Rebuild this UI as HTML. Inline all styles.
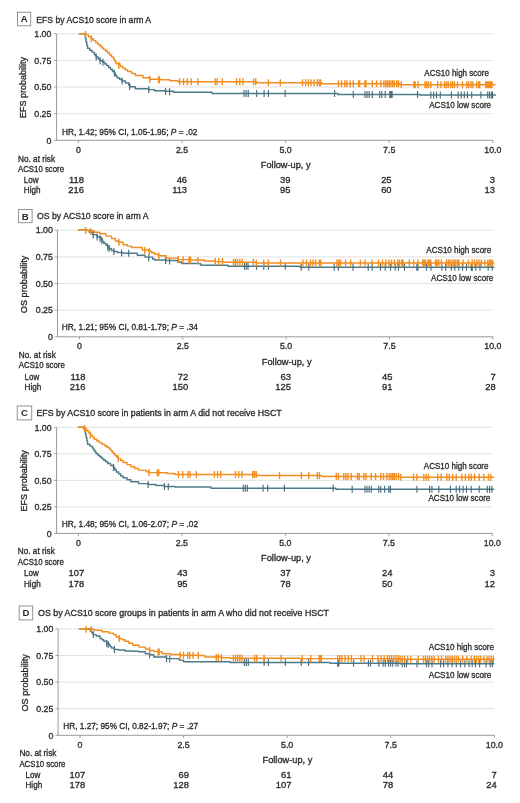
<!DOCTYPE html>
<html><head><meta charset="utf-8"><style>
html,body{margin:0;padding:0;background:#fff;overflow:hidden;}
svg{display:block;font-family:"Liberation Sans", sans-serif;filter:blur(0.35px);}
</style></head><body>
<svg width="520" height="803" viewBox="0 0 520 803">
<rect width="520" height="803" fill="#fff"/>
<rect x="17.5" y="12.2" width="13.2" height="13.5" fill="none" stroke="#888" stroke-width="0.9"/>
<text x="24.1" y="22.349999999999998" font-size="9.6" text-anchor="middle" font-weight="bold" fill="#2a2a2a">A</text>
<text x="36.3" y="22.5" font-size="9.3" textLength="114.8" lengthAdjust="spacingAndGlyphs" fill="#2a2a2a" stroke="#2a2a2a" stroke-width="0.32">EFS by ACS10 score in arm A</text>
<line x1="56.6" y1="113.67500000000001" x2="492.8" y2="113.67500000000001" stroke="#e2e2e2" stroke-width="1"/>
<line x1="56.6" y1="87.05000000000001" x2="492.8" y2="87.05000000000001" stroke="#e2e2e2" stroke-width="1"/>
<line x1="56.6" y1="60.425" x2="492.8" y2="60.425" stroke="#e2e2e2" stroke-width="1"/>
<line x1="56.6" y1="33.8" x2="492.8" y2="33.8" stroke="#e2e2e2" stroke-width="1"/>
<line x1="54.0" y1="140.3" x2="56.6" y2="140.3" stroke="#9a9a9a" stroke-width="0.9"/>
<text x="51.4" y="143.5" font-size="8.8" text-anchor="end" fill="#2a2a2a" stroke="#2a2a2a" stroke-width="0.32">0</text>
<line x1="54.0" y1="113.67500000000001" x2="56.6" y2="113.67500000000001" stroke="#9a9a9a" stroke-width="0.9"/>
<text x="51.4" y="116.87500000000001" font-size="8.8" text-anchor="end" fill="#2a2a2a" stroke="#2a2a2a" stroke-width="0.32">0.25</text>
<line x1="54.0" y1="87.05000000000001" x2="56.6" y2="87.05000000000001" stroke="#9a9a9a" stroke-width="0.9"/>
<text x="51.4" y="90.25000000000001" font-size="8.8" text-anchor="end" fill="#2a2a2a" stroke="#2a2a2a" stroke-width="0.32">0.50</text>
<line x1="54.0" y1="60.425" x2="56.6" y2="60.425" stroke="#9a9a9a" stroke-width="0.9"/>
<text x="51.4" y="63.625" font-size="8.8" text-anchor="end" fill="#2a2a2a" stroke="#2a2a2a" stroke-width="0.32">0.75</text>
<line x1="54.0" y1="33.8" x2="56.6" y2="33.8" stroke="#9a9a9a" stroke-width="0.9"/>
<text x="51.4" y="37.0" font-size="8.8" text-anchor="end" fill="#2a2a2a" stroke="#2a2a2a" stroke-width="0.32">1.00</text>
<line x1="56.6" y1="33.8" x2="56.6" y2="140.3" stroke="#9a9a9a" stroke-width="1.0"/>
<line x1="56.1" y1="140.3" x2="493.3" y2="140.3" stroke="#9a9a9a" stroke-width="1.0"/>
<line x1="78.4" y1="140.3" x2="78.4" y2="143.0" stroke="#9a9a9a" stroke-width="0.9"/>
<text x="78.4" y="153.0" font-size="8.8" text-anchor="middle" fill="#2a2a2a" stroke="#2a2a2a" stroke-width="0.32">0</text>
<line x1="182.0" y1="140.3" x2="182.0" y2="143.0" stroke="#9a9a9a" stroke-width="0.9"/>
<text x="182.0" y="153.0" font-size="8.8" text-anchor="middle" fill="#2a2a2a" stroke="#2a2a2a" stroke-width="0.32">2.5</text>
<line x1="285.6" y1="140.3" x2="285.6" y2="143.0" stroke="#9a9a9a" stroke-width="0.9"/>
<text x="285.6" y="153.0" font-size="8.8" text-anchor="middle" fill="#2a2a2a" stroke="#2a2a2a" stroke-width="0.32">5.0</text>
<line x1="389.19999999999993" y1="140.3" x2="389.19999999999993" y2="143.0" stroke="#9a9a9a" stroke-width="0.9"/>
<text x="389.19999999999993" y="153.0" font-size="8.8" text-anchor="middle" fill="#2a2a2a" stroke="#2a2a2a" stroke-width="0.32">7.5</text>
<line x1="492.79999999999995" y1="140.3" x2="492.79999999999995" y2="143.0" stroke="#9a9a9a" stroke-width="0.9"/>
<text x="492.79999999999995" y="153.0" font-size="8.8" text-anchor="middle" fill="#2a2a2a" stroke="#2a2a2a" stroke-width="0.32">10.0</text>
<text transform="translate(26.3,87.6) rotate(-90)" x="0" y="0" font-size="9.4" text-anchor="middle" textLength="61" lengthAdjust="spacingAndGlyphs" fill="#2a2a2a" stroke="#2a2a2a" stroke-width="0.32">EFS probability</text>
<text x="260.8" y="168.0" font-size="9.5" textLength="49.8" lengthAdjust="spacingAndGlyphs" fill="#2a2a2a" stroke="#2a2a2a" stroke-width="0.32">Follow-up, y</text>
<text x="61.9" y="134.7" font-size="9.2" textLength="135.5" lengthAdjust="spacingAndGlyphs" fill="#2a2a2a" stroke="#2a2a2a" stroke-width="0.32">HR, 1.42; 95% CI, 1.05-1.95; <tspan font-style="italic">P</tspan> = .02</text>
<path d="M78.8,33.8 L84.6,33.8 H85.3 V37.9 H86.0 V42.0 H86.8 V45.1 H87.5 V48.3 H89.7 V50.2 H92.0 V52.1 H94.2 V54.0 H95.2 V55.5 H96.2 V56.9 H98.1 V58.8 H100.0 V60.8 H102.9 V62.3 H104.8 V64.0 H106.8 V65.8 H108.7 V67.5 H110.6 V69.4 H112.5 V71.4 H114.4 V73.3 H115.4 V74.9 H116.3 V76.4 H117.3 V78.0 H119.7 V79.5 H122.1 V81.0 H125.4 V83.0 H128.7 V85.0 H129.8 V86.7 H135.4 V88.8 H148.8 V89.6 H154.6 V90.8 H165.0 V91.3 H173.8 V92.3 L212.0,92.3 L212.0,93.5 L338.0,93.5 L338.0,94.5 L420.0,94.5 L420.0,95.0 L496.0,95.0" fill="none" stroke="#4C7A8B" stroke-width="1.45" stroke-linejoin="round"/>
<path d="M96.2,53.4v7.0M100.0,57.3v7.0M102.9,58.8v7.0M114.4,69.8v7.0M122.1,77.5v7.0M129.6,82.9v7.0M148.8,86.1v7.0M165.6,87.9v7.0M169.6,88.3v7.0M244.0,90.0v7.0M246.2,90.0v7.0M248.3,90.0v7.0M256.7,90.0v7.0M264.1,90.0v7.0M268.4,90.0v7.0M285.2,90.0v7.0M334.6,90.0v7.0M353.3,91.0v7.0M364.9,91.0v7.0M367.0,91.0v7.0M369.1,91.0v7.0M372.3,91.0v7.0M379.7,91.0v7.0M381.8,91.0v7.0M385.2,91.0v7.0M389.8,91.0v7.0M391.0,91.0v7.0M392.1,91.0v7.0M417.5,91.0v7.0M430.8,91.5v7.0M433.7,91.5v7.0M436.5,91.5v7.0M440.3,91.5v7.0M451.4,91.5v7.0M458.2,91.5v7.0M461.2,91.5v7.0M464.3,91.5v7.0M467.4,91.5v7.0M471.7,91.5v7.0M480.9,91.5v7.0M487.7,91.5v7.0M489.5,91.5v7.0M491.4,91.5v7.0M492.6,91.5v7.0" stroke="#4A6E7E" stroke-width="1.15" fill="none"/>
<path d="M78.8,33.8 L83.7,33.8 H85.6 V34.6 H88.4 V36.7 H91.3 V38.7 H93.5 V40.6 H95.7 V42.5 H97.8 V44.4 H100.0 V46.3 H101.9 V48.0 H103.8 V49.6 H105.8 V51.3 H107.7 V53.0 H109.6 V54.9 H111.6 V56.9 H113.5 V58.8 H114.4 V60.4 H115.4 V62.1 H116.3 V63.7 H120.0 V66.2 H122.6 V68.0 H125.1 V69.7 H127.7 V71.5 H131.6 V73.5 H135.4 V75.4 H143.0 V77.7 H149.8 V79.2 H160.4 V79.8 H170.0 V80.8 H178.0 V81.3 L178.0,81.8 L257.0,81.8 L257.0,82.7 L322.0,82.7 L322.0,83.8 L400.0,83.8 L400.0,84.8 L495.5,84.8" fill="none" stroke="#F28D20" stroke-width="1.45" stroke-linejoin="round"/>
<path d="M85.6,31.1v7.0M91.3,35.2v7.0M118.8,61.9v7.0M149.8,75.7v7.0M158.5,76.2v7.0M159.4,76.2v7.0M179.6,78.3v7.0M183.5,78.3v7.0M187.3,78.3v7.0M191.2,78.3v7.0M197.9,78.3v7.0M215.2,78.3v7.0M217.1,78.3v7.0M222.3,78.3v7.0M236.6,78.3v7.0M239.8,78.3v7.0M243.0,78.3v7.0M253.6,78.3v7.0M255.7,78.3v7.0M268.4,79.2v7.0M280.3,79.2v7.0M302.5,79.2v7.0M305.7,79.2v7.0M308.4,79.2v7.0M311.0,79.2v7.0M314.1,79.2v7.0M317.3,79.2v7.0M319.4,79.2v7.0M320.5,79.2v7.0M338.5,80.3v7.0M341.6,80.3v7.0M344.8,80.3v7.0M346.9,80.3v7.0M350.1,80.3v7.0M353.3,80.3v7.0M358.6,80.3v7.0M359.6,80.3v7.0M364.9,80.3v7.0M366.0,80.3v7.0M372.3,80.3v7.0M376.5,80.3v7.0M380.8,80.3v7.0M383.9,80.3v7.0M385.8,80.3v7.0M387.5,80.3v7.0M389.2,80.3v7.0M391.0,80.3v7.0M392.7,80.3v7.0M394.4,80.3v7.0M396.7,80.3v7.0M398.5,80.3v7.0M401.3,81.3v7.0M414.0,81.3v7.0M415.2,81.3v7.0M418.1,81.3v7.0M425.0,81.3v7.0M426.7,81.3v7.0M428.5,81.3v7.0M430.8,81.3v7.0M437.7,81.3v7.0M440.9,81.3v7.0M444.6,81.3v7.0M446.5,81.3v7.0M448.3,81.3v7.0M450.8,81.3v7.0M452.6,81.3v7.0M454.5,81.3v7.0M457.5,81.3v7.0M462.5,81.3v7.0M466.8,81.3v7.0M468.6,81.3v7.0M471.1,81.3v7.0M472.9,81.3v7.0M476.6,81.3v7.0M478.5,81.3v7.0M479.7,81.3v7.0M485.8,81.3v7.0M487.1,81.3v7.0M488.3,81.3v7.0M489.5,81.3v7.0M490.8,81.3v7.0M492.0,81.3v7.0" stroke="#F28D20" stroke-width="1.4" fill="none"/>
<text x="424.3" y="76.3" font-size="9.3" textLength="64.6" lengthAdjust="spacingAndGlyphs" fill="#2a2a2a" stroke="#2a2a2a" stroke-width="0.32">ACS10 high score</text>
<text x="429.2" y="108.3" font-size="9.3" textLength="61.9" lengthAdjust="spacingAndGlyphs" fill="#2a2a2a" stroke="#2a2a2a" stroke-width="0.32">ACS10 low score</text>
<text x="18.0" y="161.5" font-size="9.2" textLength="37" lengthAdjust="spacingAndGlyphs" fill="#2a2a2a" stroke="#2a2a2a" stroke-width="0.32">No. at risk</text>
<text x="18.0" y="172.2" font-size="9.2" textLength="46" lengthAdjust="spacingAndGlyphs" fill="#2a2a2a" stroke="#2a2a2a" stroke-width="0.32">ACS10 score</text>
<text x="23.8" y="182.9" font-size="9.2" textLength="14.7" lengthAdjust="spacingAndGlyphs" fill="#2a2a2a" stroke="#2a2a2a" stroke-width="0.32">Low</text>
<text x="23.8" y="193.3" font-size="9.2" textLength="16.7" lengthAdjust="spacingAndGlyphs" fill="#2a2a2a" stroke="#2a2a2a" stroke-width="0.32">High</text>
<text x="84.0" y="182.9" font-size="9.4" text-anchor="end" fill="#2a2a2a" stroke="#2a2a2a" stroke-width="0.32">118</text>
<text x="84.0" y="193.3" font-size="9.4" text-anchor="end" fill="#2a2a2a" stroke="#2a2a2a" stroke-width="0.32">216</text>
<text x="187.1" y="182.9" font-size="9.4" text-anchor="end" fill="#2a2a2a" stroke="#2a2a2a" stroke-width="0.32">46</text>
<text x="187.1" y="193.3" font-size="9.4" text-anchor="end" fill="#2a2a2a" stroke="#2a2a2a" stroke-width="0.32">113</text>
<text x="290.4" y="182.9" font-size="9.4" text-anchor="end" fill="#2a2a2a" stroke="#2a2a2a" stroke-width="0.32">39</text>
<text x="290.4" y="193.3" font-size="9.4" text-anchor="end" fill="#2a2a2a" stroke="#2a2a2a" stroke-width="0.32">95</text>
<text x="391.6" y="182.9" font-size="9.4" text-anchor="end" fill="#2a2a2a" stroke="#2a2a2a" stroke-width="0.32">25</text>
<text x="391.6" y="193.3" font-size="9.4" text-anchor="end" fill="#2a2a2a" stroke="#2a2a2a" stroke-width="0.32">60</text>
<text x="495.0" y="182.9" font-size="9.4" text-anchor="end" fill="#2a2a2a" stroke="#2a2a2a" stroke-width="0.32">3</text>
<text x="495.0" y="193.3" font-size="9.4" text-anchor="end" fill="#2a2a2a" stroke="#2a2a2a" stroke-width="0.32">13</text>
<rect x="18.4" y="209.5" width="13.7" height="13.2" fill="none" stroke="#888" stroke-width="0.9"/>
<text x="25.25" y="219.5" font-size="9.6" text-anchor="middle" font-weight="bold" fill="#2a2a2a">B</text>
<text x="37.1" y="219.0" font-size="9.3" textLength="111.4" lengthAdjust="spacingAndGlyphs" fill="#2a2a2a" stroke="#2a2a2a" stroke-width="0.32">OS by ACS10 score in arm A</text>
<line x1="57.5" y1="310.15" x2="492.8" y2="310.15" stroke="#e2e2e2" stroke-width="1"/>
<line x1="57.5" y1="283.5" x2="492.8" y2="283.5" stroke="#e2e2e2" stroke-width="1"/>
<line x1="57.5" y1="256.85" x2="492.8" y2="256.85" stroke="#e2e2e2" stroke-width="1"/>
<line x1="57.5" y1="230.2" x2="492.8" y2="230.2" stroke="#e2e2e2" stroke-width="1"/>
<line x1="54.9" y1="336.8" x2="57.5" y2="336.8" stroke="#9a9a9a" stroke-width="0.9"/>
<text x="52.9" y="340.0" font-size="8.8" text-anchor="end" fill="#2a2a2a" stroke="#2a2a2a" stroke-width="0.32">0</text>
<line x1="54.9" y1="310.15" x2="57.5" y2="310.15" stroke="#9a9a9a" stroke-width="0.9"/>
<text x="52.9" y="313.34999999999997" font-size="8.8" text-anchor="end" fill="#2a2a2a" stroke="#2a2a2a" stroke-width="0.32">0.25</text>
<line x1="54.9" y1="283.5" x2="57.5" y2="283.5" stroke="#9a9a9a" stroke-width="0.9"/>
<text x="52.9" y="286.7" font-size="8.8" text-anchor="end" fill="#2a2a2a" stroke="#2a2a2a" stroke-width="0.32">0.50</text>
<line x1="54.9" y1="256.85" x2="57.5" y2="256.85" stroke="#9a9a9a" stroke-width="0.9"/>
<text x="52.9" y="260.05" font-size="8.8" text-anchor="end" fill="#2a2a2a" stroke="#2a2a2a" stroke-width="0.32">0.75</text>
<line x1="54.9" y1="230.2" x2="57.5" y2="230.2" stroke="#9a9a9a" stroke-width="0.9"/>
<text x="52.9" y="233.39999999999998" font-size="8.8" text-anchor="end" fill="#2a2a2a" stroke="#2a2a2a" stroke-width="0.32">1.00</text>
<line x1="57.5" y1="230.2" x2="57.5" y2="336.8" stroke="#9a9a9a" stroke-width="1.0"/>
<line x1="57.0" y1="336.8" x2="493.3" y2="336.8" stroke="#9a9a9a" stroke-width="1.0"/>
<line x1="79.4" y1="336.8" x2="79.4" y2="339.5" stroke="#9a9a9a" stroke-width="0.9"/>
<text x="79.4" y="349.4" font-size="8.8" text-anchor="middle" fill="#2a2a2a" stroke="#2a2a2a" stroke-width="0.32">0</text>
<line x1="182.75" y1="336.8" x2="182.75" y2="339.5" stroke="#9a9a9a" stroke-width="0.9"/>
<text x="182.75" y="349.4" font-size="8.8" text-anchor="middle" fill="#2a2a2a" stroke="#2a2a2a" stroke-width="0.32">2.5</text>
<line x1="286.1" y1="336.8" x2="286.1" y2="339.5" stroke="#9a9a9a" stroke-width="0.9"/>
<text x="286.1" y="349.4" font-size="8.8" text-anchor="middle" fill="#2a2a2a" stroke="#2a2a2a" stroke-width="0.32">5.0</text>
<line x1="389.44999999999993" y1="336.8" x2="389.44999999999993" y2="339.5" stroke="#9a9a9a" stroke-width="0.9"/>
<text x="389.44999999999993" y="349.4" font-size="8.8" text-anchor="middle" fill="#2a2a2a" stroke="#2a2a2a" stroke-width="0.32">7.5</text>
<line x1="492.79999999999995" y1="336.8" x2="492.79999999999995" y2="339.5" stroke="#9a9a9a" stroke-width="0.9"/>
<text x="492.79999999999995" y="349.4" font-size="8.8" text-anchor="middle" fill="#2a2a2a" stroke="#2a2a2a" stroke-width="0.32">10.0</text>
<text transform="translate(27.0,284.4) rotate(-90)" x="0" y="0" font-size="9.4" text-anchor="middle" textLength="57.6" lengthAdjust="spacingAndGlyphs" fill="#2a2a2a" stroke="#2a2a2a" stroke-width="0.32">OS probability</text>
<text x="261.8" y="364.8" font-size="9.5" textLength="49.8" lengthAdjust="spacingAndGlyphs" fill="#2a2a2a" stroke="#2a2a2a" stroke-width="0.32">Follow-up, y</text>
<text x="61.8" y="329.8" font-size="9.2" textLength="136.2" lengthAdjust="spacingAndGlyphs" fill="#2a2a2a" stroke="#2a2a2a" stroke-width="0.32">HR, 1.21; 95% CI, 0.81-1.79; <tspan font-style="italic">P</tspan> = .34</text>
<path d="M77.9,229.8 H86.0 V230.3 H89.4 V232.2 H92.8 V234.6 H97.1 V237.0 H101.0 V239.4 H102.4 V241.4 H103.8 V243.3 H105.8 V245.2 H107.7 V247.1 H109.6 V248.8 H111.5 V250.5 H113.9 V251.4 H117.3 V252.4 H121.6 V252.9 H125.0 V253.3 L130.0,253.3 H137.3 V255.2 H145.0 V257.1 H152.7 V259.0 H154.6 V260.0 H166.0 V260.4 H177.7 V261.9 H181.5 V263.5 H198.8 V263.8 H200.8 V265.2 L200.8,265.3 L228.0,265.3 L228.0,266.2 L300.0,266.2 L300.0,267.2 L494.4,267.2" fill="none" stroke="#4C7A8B" stroke-width="1.45" stroke-linejoin="round"/>
<path d="M93.3,231.4v7.0M97.1,233.5v7.0M100.0,235.3v7.0M101.9,237.2v7.0M107.7,243.6v7.0M109.1,244.9v7.0M113.9,247.9v7.0M121.6,249.4v7.0M128.7,249.8v7.0M148.7,254.5v7.0M165.6,256.9v7.0M169.6,257.4v7.0M244.5,262.7v7.0M246.3,262.7v7.0M248.0,262.7v7.0M256.6,262.7v7.0M263.7,262.7v7.0M268.4,262.7v7.0M285.3,262.7v7.0M301.2,263.7v7.0M308.8,263.7v7.0M334.2,263.7v7.0M338.4,263.7v7.0M353.0,263.7v7.0M368.2,263.7v7.0M372.2,263.7v7.0M380.5,263.7v7.0M385.2,263.7v7.0M390.5,263.7v7.0M395.2,263.7v7.0M398.4,263.7v7.0M404.5,263.7v7.0M416.8,263.7v7.0M418.0,263.7v7.0M426.5,263.7v7.0M431.0,263.7v7.0M441.8,263.7v7.0M445.6,263.7v7.0M451.4,263.7v7.0M454.8,263.7v7.0M458.7,263.7v7.0M462.5,263.7v7.0M466.4,263.7v7.0M471.2,263.7v7.0M472.3,263.7v7.0M475.8,263.7v7.0M480.0,263.7v7.0M488.2,263.7v7.0M492.2,263.7v7.0" stroke="#4A6E7E" stroke-width="1.15" fill="none"/>
<path d="M77.9,229.8 H84.6 V230.3 H88.0 V230.8 H94.2 V232.2 H100.0 V233.7 H105.8 V236.1 H111.5 V238.5 H115.4 V240.9 H118.8 V242.3 H123.1 V244.7 H127.3 V246.1 H131.5 V247.5 H142.3 V250.0 H148.8 V251.3 H151.7 V252.8 H154.6 V254.2 H158.5 V255.8 H166.2 V258.1 H178.0 V259.6 H192.0 V260.0 H204.6 V261.0 H215.0 V261.3 L215.0,261.6 L224.0,261.6 L224.0,262.2 L256.0,262.2 L256.0,262.9 L494.4,262.9" fill="none" stroke="#F28D20" stroke-width="1.45" stroke-linejoin="round"/>
<path d="M85.6,226.9v7.0M90.9,228.0v7.0M118.8,238.8v7.0M144.7,247.0v7.0M149.4,248.1v7.0M158.8,252.4v7.0M178.4,256.1v7.0M183.1,256.2v7.0M189.1,256.4v7.0M190.5,256.5v7.0M197.9,257.0v7.0M215.3,258.1v7.0M218.7,258.1v7.0M222.5,258.1v7.0M233.6,258.7v7.0M235.5,258.7v7.0M237.4,258.7v7.0M239.8,258.7v7.0M242.2,258.7v7.0M253.3,258.7v7.0M256.3,259.4v7.0M263.7,259.4v7.0M268.4,259.4v7.0M280.5,259.4v7.0M302.9,259.4v7.0M306.5,259.4v7.0M310.6,259.4v7.0M312.9,259.4v7.0M315.6,259.4v7.0M319.3,259.4v7.0M320.8,259.4v7.0M337.0,259.4v7.0M338.8,259.4v7.0M340.5,259.4v7.0M345.6,259.4v7.0M350.7,259.4v7.0M360.4,259.4v7.0M365.0,259.4v7.0M372.0,259.4v7.0M378.5,259.4v7.0M382.5,259.4v7.0M386.0,259.4v7.0M389.0,259.4v7.0M391.5,259.4v7.0M394.5,259.4v7.0M397.7,259.4v7.0M399.5,259.4v7.0M401.7,259.4v7.0M403.0,259.4v7.0M409.3,259.4v7.0M413.6,259.4v7.0M417.8,259.4v7.0M422.8,259.4v7.0M424.2,259.4v7.0M425.4,259.4v7.0M427.8,259.4v7.0M429.3,259.4v7.0M430.8,259.4v7.0M435.6,259.4v7.0M437.0,259.4v7.0M438.8,259.4v7.0M441.4,259.4v7.0M446.5,259.4v7.0M448.3,259.4v7.0M450.0,259.4v7.0M452.0,259.4v7.0M453.8,259.4v7.0M455.5,259.4v7.0M457.3,259.4v7.0M458.8,259.4v7.0M463.0,259.4v7.0M468.5,259.4v7.0M472.2,259.4v7.0M474.5,259.4v7.0M477.0,259.4v7.0M479.0,259.4v7.0M481.3,259.4v7.0M484.8,259.4v7.0M487.8,259.4v7.0M489.5,259.4v7.0M491.0,259.4v7.0M492.5,259.4v7.0" stroke="#F28D20" stroke-width="1.4" fill="none"/>
<text x="426.3" y="253.1" font-size="9.3" textLength="65.0" lengthAdjust="spacingAndGlyphs" fill="#2a2a2a" stroke="#2a2a2a" stroke-width="0.32">ACS10 high score</text>
<text x="431.0" y="280.6" font-size="9.3" textLength="62.4" lengthAdjust="spacingAndGlyphs" fill="#2a2a2a" stroke="#2a2a2a" stroke-width="0.32">ACS10 low score</text>
<text x="18.8" y="357.6" font-size="9.2" textLength="37" lengthAdjust="spacingAndGlyphs" fill="#2a2a2a" stroke="#2a2a2a" stroke-width="0.32">No. at risk</text>
<text x="18.8" y="368.4" font-size="9.2" textLength="46" lengthAdjust="spacingAndGlyphs" fill="#2a2a2a" stroke="#2a2a2a" stroke-width="0.32">ACS10 score</text>
<text x="24.6" y="379.5" font-size="9.2" textLength="14.7" lengthAdjust="spacingAndGlyphs" fill="#2a2a2a" stroke="#2a2a2a" stroke-width="0.32">Low</text>
<text x="24.6" y="390.3" font-size="9.2" textLength="16.7" lengthAdjust="spacingAndGlyphs" fill="#2a2a2a" stroke="#2a2a2a" stroke-width="0.32">High</text>
<text x="85.4" y="379.5" font-size="9.4" text-anchor="end" fill="#2a2a2a" stroke="#2a2a2a" stroke-width="0.32">118</text>
<text x="85.4" y="390.3" font-size="9.4" text-anchor="end" fill="#2a2a2a" stroke="#2a2a2a" stroke-width="0.32">216</text>
<text x="188.2" y="379.5" font-size="9.4" text-anchor="end" fill="#2a2a2a" stroke="#2a2a2a" stroke-width="0.32">72</text>
<text x="188.2" y="390.3" font-size="9.4" text-anchor="end" fill="#2a2a2a" stroke="#2a2a2a" stroke-width="0.32">150</text>
<text x="291.0" y="379.5" font-size="9.4" text-anchor="end" fill="#2a2a2a" stroke="#2a2a2a" stroke-width="0.32">63</text>
<text x="291.0" y="390.3" font-size="9.4" text-anchor="end" fill="#2a2a2a" stroke="#2a2a2a" stroke-width="0.32">125</text>
<text x="392.5" y="379.5" font-size="9.4" text-anchor="end" fill="#2a2a2a" stroke="#2a2a2a" stroke-width="0.32">45</text>
<text x="392.5" y="390.3" font-size="9.4" text-anchor="end" fill="#2a2a2a" stroke="#2a2a2a" stroke-width="0.32">91</text>
<text x="495.7" y="379.5" font-size="9.4" text-anchor="end" fill="#2a2a2a" stroke="#2a2a2a" stroke-width="0.32">7</text>
<text x="495.7" y="390.3" font-size="9.4" text-anchor="end" fill="#2a2a2a" stroke="#2a2a2a" stroke-width="0.32">28</text>
<rect x="17.2" y="406.0" width="14.5" height="13.9" fill="none" stroke="#888" stroke-width="0.9"/>
<text x="24.45" y="416.34999999999997" font-size="9.6" text-anchor="middle" font-weight="bold" fill="#2a2a2a">C</text>
<text x="36.5" y="415.6" font-size="9.3" textLength="245.2" lengthAdjust="spacingAndGlyphs" fill="#2a2a2a" stroke="#2a2a2a" stroke-width="0.32">EFS by ACS10 score in patients in arm A did not receive HSCT</text>
<line x1="56.6" y1="506.875" x2="492.3" y2="506.875" stroke="#e2e2e2" stroke-width="1"/>
<line x1="56.6" y1="480.35" x2="492.3" y2="480.35" stroke="#e2e2e2" stroke-width="1"/>
<line x1="56.6" y1="453.825" x2="492.3" y2="453.825" stroke="#e2e2e2" stroke-width="1"/>
<line x1="56.6" y1="427.3" x2="492.3" y2="427.3" stroke="#e2e2e2" stroke-width="1"/>
<line x1="54.0" y1="533.4" x2="56.6" y2="533.4" stroke="#9a9a9a" stroke-width="0.9"/>
<text x="51.6" y="536.6" font-size="8.8" text-anchor="end" fill="#2a2a2a" stroke="#2a2a2a" stroke-width="0.32">0</text>
<line x1="54.0" y1="506.875" x2="56.6" y2="506.875" stroke="#9a9a9a" stroke-width="0.9"/>
<text x="51.6" y="510.075" font-size="8.8" text-anchor="end" fill="#2a2a2a" stroke="#2a2a2a" stroke-width="0.32">0.25</text>
<line x1="54.0" y1="480.35" x2="56.6" y2="480.35" stroke="#9a9a9a" stroke-width="0.9"/>
<text x="51.6" y="483.55" font-size="8.8" text-anchor="end" fill="#2a2a2a" stroke="#2a2a2a" stroke-width="0.32">0.50</text>
<line x1="54.0" y1="453.825" x2="56.6" y2="453.825" stroke="#9a9a9a" stroke-width="0.9"/>
<text x="51.6" y="457.025" font-size="8.8" text-anchor="end" fill="#2a2a2a" stroke="#2a2a2a" stroke-width="0.32">0.75</text>
<line x1="54.0" y1="427.3" x2="56.6" y2="427.3" stroke="#9a9a9a" stroke-width="0.9"/>
<text x="51.6" y="430.5" font-size="8.8" text-anchor="end" fill="#2a2a2a" stroke="#2a2a2a" stroke-width="0.32">1.00</text>
<line x1="56.6" y1="427.3" x2="56.6" y2="533.4" stroke="#9a9a9a" stroke-width="1.0"/>
<line x1="56.1" y1="533.4" x2="492.8" y2="533.4" stroke="#9a9a9a" stroke-width="1.0"/>
<line x1="78.4" y1="533.4" x2="78.4" y2="536.1" stroke="#9a9a9a" stroke-width="0.9"/>
<text x="78.4" y="546.3" font-size="8.8" text-anchor="middle" fill="#2a2a2a" stroke="#2a2a2a" stroke-width="0.32">0</text>
<line x1="181.875" y1="533.4" x2="181.875" y2="536.1" stroke="#9a9a9a" stroke-width="0.9"/>
<text x="181.875" y="546.3" font-size="8.8" text-anchor="middle" fill="#2a2a2a" stroke="#2a2a2a" stroke-width="0.32">2.5</text>
<line x1="285.35" y1="533.4" x2="285.35" y2="536.1" stroke="#9a9a9a" stroke-width="0.9"/>
<text x="285.35" y="546.3" font-size="8.8" text-anchor="middle" fill="#2a2a2a" stroke="#2a2a2a" stroke-width="0.32">5.0</text>
<line x1="388.82499999999993" y1="533.4" x2="388.82499999999993" y2="536.1" stroke="#9a9a9a" stroke-width="0.9"/>
<text x="388.82499999999993" y="546.3" font-size="8.8" text-anchor="middle" fill="#2a2a2a" stroke="#2a2a2a" stroke-width="0.32">7.5</text>
<line x1="492.29999999999995" y1="533.4" x2="492.29999999999995" y2="536.1" stroke="#9a9a9a" stroke-width="0.9"/>
<text x="492.29999999999995" y="546.3" font-size="8.8" text-anchor="middle" fill="#2a2a2a" stroke="#2a2a2a" stroke-width="0.32">10.0</text>
<text transform="translate(26.8,480.8) rotate(-90)" x="0" y="0" font-size="9.4" text-anchor="middle" textLength="61.3" lengthAdjust="spacingAndGlyphs" fill="#2a2a2a" stroke="#2a2a2a" stroke-width="0.32">EFS probability</text>
<text x="261.0" y="561.0" font-size="9.5" textLength="50.0" lengthAdjust="spacingAndGlyphs" fill="#2a2a2a" stroke="#2a2a2a" stroke-width="0.32">Follow-up, y</text>
<text x="61.8" y="527.4" font-size="9.2" textLength="136.3" lengthAdjust="spacingAndGlyphs" fill="#2a2a2a" stroke="#2a2a2a" stroke-width="0.32">HR, 1.48; 95% CI, 1.06-2.07; <tspan font-style="italic">P</tspan> = .02</text>
<path d="M77.9,427.3 L83.7,427.3 H84.3 V429.7 H85.0 V432.1 H85.6 V434.5 H86.2 V437.7 H86.9 V441.0 H87.5 V444.2 H89.9 V446.1 H92.3 V448.0 H93.6 V449.9 H94.9 V451.9 H96.2 V453.8 H98.1 V455.4 H100.0 V457.0 H101.9 V458.6 H103.8 V460.2 H105.8 V461.8 H107.7 V463.4 H110.6 V465.5 H113.5 V467.6 H114.9 V469.8 H116.3 V472.0 H118.6 V473.9 H120.8 V475.9 H123.1 V477.8 H127.0 V479.8 H130.8 V481.7 H138.5 V483.6 H148.1 V484.5 H155.8 V485.5 H164.4 V486.5 H175.0 V487.0 L211.0,487.0 L211.0,488.3 L336.0,488.3 L336.0,489.2 L494.2,489.2" fill="none" stroke="#4C7A8B" stroke-width="1.45" stroke-linejoin="round"/>
<path d="M113.5,464.1v7.0M148.1,481.0v7.0M164.4,483.0v7.0M168.3,483.2v7.0M243.3,484.8v7.0M245.3,484.8v7.0M247.3,484.8v7.0M263.1,484.8v7.0M267.7,484.8v7.0M284.4,484.8v7.0M333.2,484.8v7.0M352.2,485.7v7.0M364.9,485.7v7.0M367.0,485.7v7.0M369.1,485.7v7.0M371.3,485.7v7.0M378.7,485.7v7.0M380.8,485.7v7.0M384.6,485.7v7.0M388.8,485.7v7.0M390.4,485.7v7.0M416.9,485.7v7.0M429.6,485.7v7.0M431.9,485.7v7.0M438.8,485.7v7.0M450.4,485.7v7.0M456.2,485.7v7.0M459.6,485.7v7.0M463.1,485.7v7.0M466.5,485.7v7.0M471.2,485.7v7.0M479.2,485.7v7.0M487.3,485.7v7.0M489.6,485.7v7.0M491.9,485.7v7.0" stroke="#4A6E7E" stroke-width="1.15" fill="none"/>
<path d="M77.9,427.3 H82.7 V427.8 H84.6 V428.5 H86.5 V430.7 H88.5 V432.8 H90.4 V434.9 H92.3 V437.1 H94.2 V439.3 H96.8 V440.9 H99.3 V442.6 H101.9 V444.2 H104.5 V445.8 H107.0 V447.4 H109.6 V449.0 H110.9 V450.6 H112.2 V452.2 H113.5 V453.8 H115.1 V455.4 H116.7 V457.0 H118.3 V458.6 H120.7 V460.5 H123.1 V462.4 H127.0 V464.6 H130.8 V466.8 H134.7 V468.5 H138.5 V470.1 H146.2 V471.7 H149.0 V472.6 H158.0 V472.8 H167.3 V473.4 H175.0 V473.6 L175.0,474.5 L257.0,474.5 L257.0,475.5 L322.0,475.5 L322.0,476.5 L400.0,476.5 L400.0,477.3 L494.2,477.3" fill="none" stroke="#F28D20" stroke-width="1.45" stroke-linejoin="round"/>
<path d="M84.6,425.0v7.0M90.4,431.4v7.0M118.3,455.1v7.0M149.0,469.1v7.0M157.3,469.3v7.0M158.7,469.3v7.0M178.5,471.0v7.0M182.7,471.0v7.0M188.0,471.0v7.0M190.1,471.0v7.0M196.4,471.0v7.0M214.4,471.0v7.0M217.6,471.0v7.0M220.8,471.0v7.0M235.6,471.0v7.0M238.8,471.0v7.0M241.9,471.0v7.0M252.7,471.0v7.0M254.4,471.0v7.0M256.2,471.0v7.0M279.5,472.0v7.0M301.4,472.0v7.0M308.8,472.0v7.0M317.3,472.0v7.0M319.4,472.0v7.0M336.3,473.0v7.0M338.5,473.0v7.0M343.8,473.0v7.0M345.9,473.0v7.0M348.0,473.0v7.0M351.2,473.0v7.0M357.5,473.0v7.0M359.2,473.0v7.0M363.9,473.0v7.0M366.0,473.0v7.0M371.3,473.0v7.0M375.5,473.0v7.0M380.8,473.0v7.0M383.5,473.0v7.0M386.9,473.0v7.0M389.2,473.0v7.0M391.1,473.0v7.0M392.7,473.0v7.0M394.3,473.0v7.0M396.2,473.0v7.0M398.5,473.0v7.0M400.8,473.8v7.0M413.5,473.8v7.0M416.9,473.8v7.0M423.8,473.8v7.0M426.2,473.8v7.0M428.5,473.8v7.0M437.7,473.8v7.0M441.2,473.8v7.0M446.9,473.8v7.0M449.2,473.8v7.0M452.7,473.8v7.0M456.2,473.8v7.0M461.9,473.8v7.0M465.4,473.8v7.0M468.8,473.8v7.0M471.2,473.8v7.0M474.6,473.8v7.0M479.2,473.8v7.0M483.8,473.8v7.0M488.5,473.8v7.0M490.8,473.8v7.0" stroke="#F28D20" stroke-width="1.4" fill="none"/>
<text x="423.8" y="469.3" font-size="9.3" textLength="64.7" lengthAdjust="spacingAndGlyphs" fill="#2a2a2a" stroke="#2a2a2a" stroke-width="0.32">ACS10 high score</text>
<text x="428.5" y="501.2" font-size="9.3" textLength="61.8" lengthAdjust="spacingAndGlyphs" fill="#2a2a2a" stroke="#2a2a2a" stroke-width="0.32">ACS10 low score</text>
<text x="17.8" y="554.4" font-size="9.2" textLength="37" lengthAdjust="spacingAndGlyphs" fill="#2a2a2a" stroke="#2a2a2a" stroke-width="0.32">No. at risk</text>
<text x="17.8" y="565.2" font-size="9.2" textLength="46" lengthAdjust="spacingAndGlyphs" fill="#2a2a2a" stroke="#2a2a2a" stroke-width="0.32">ACS10 score</text>
<text x="24.0" y="575.9" font-size="9.2" textLength="14.7" lengthAdjust="spacingAndGlyphs" fill="#2a2a2a" stroke="#2a2a2a" stroke-width="0.32">Low</text>
<text x="24.0" y="586.7" font-size="9.2" textLength="16.7" lengthAdjust="spacingAndGlyphs" fill="#2a2a2a" stroke="#2a2a2a" stroke-width="0.32">High</text>
<text x="84.2" y="575.9" font-size="9.4" text-anchor="end" fill="#2a2a2a" stroke="#2a2a2a" stroke-width="0.32">107</text>
<text x="84.2" y="586.7" font-size="9.4" text-anchor="end" fill="#2a2a2a" stroke="#2a2a2a" stroke-width="0.32">178</text>
<text x="187.6" y="575.9" font-size="9.4" text-anchor="end" fill="#2a2a2a" stroke="#2a2a2a" stroke-width="0.32">43</text>
<text x="187.6" y="586.7" font-size="9.4" text-anchor="end" fill="#2a2a2a" stroke="#2a2a2a" stroke-width="0.32">95</text>
<text x="290.8" y="575.9" font-size="9.4" text-anchor="end" fill="#2a2a2a" stroke="#2a2a2a" stroke-width="0.32">37</text>
<text x="290.8" y="586.7" font-size="9.4" text-anchor="end" fill="#2a2a2a" stroke="#2a2a2a" stroke-width="0.32">78</text>
<text x="392.5" y="575.9" font-size="9.4" text-anchor="end" fill="#2a2a2a" stroke="#2a2a2a" stroke-width="0.32">24</text>
<text x="392.5" y="586.7" font-size="9.4" text-anchor="end" fill="#2a2a2a" stroke="#2a2a2a" stroke-width="0.32">50</text>
<text x="495.0" y="575.9" font-size="9.4" text-anchor="end" fill="#2a2a2a" stroke="#2a2a2a" stroke-width="0.32">3</text>
<text x="495.0" y="586.7" font-size="9.4" text-anchor="end" fill="#2a2a2a" stroke="#2a2a2a" stroke-width="0.32">12</text>
<rect x="19.2" y="606.0" width="13.5" height="13.9" fill="none" stroke="#888" stroke-width="0.9"/>
<text x="25.95" y="616.35" font-size="9.6" text-anchor="middle" font-weight="bold" fill="#2a2a2a">D</text>
<text x="38.0" y="616.2" font-size="9.3" textLength="291.0" lengthAdjust="spacingAndGlyphs" fill="#2a2a2a" stroke="#2a2a2a" stroke-width="0.32">OS by ACS10 score groups in patients in arm A who did not receive HSCT</text>
<line x1="58.1" y1="708.6999999999999" x2="494.3" y2="708.6999999999999" stroke="#e2e2e2" stroke-width="1"/>
<line x1="58.1" y1="682.0999999999999" x2="494.3" y2="682.0999999999999" stroke="#e2e2e2" stroke-width="1"/>
<line x1="58.1" y1="655.5" x2="494.3" y2="655.5" stroke="#e2e2e2" stroke-width="1"/>
<line x1="58.1" y1="628.9" x2="494.3" y2="628.9" stroke="#e2e2e2" stroke-width="1"/>
<line x1="55.5" y1="735.3" x2="58.1" y2="735.3" stroke="#9a9a9a" stroke-width="0.9"/>
<text x="53.4" y="738.5" font-size="8.8" text-anchor="end" fill="#2a2a2a" stroke="#2a2a2a" stroke-width="0.32">0</text>
<line x1="55.5" y1="708.6999999999999" x2="58.1" y2="708.6999999999999" stroke="#9a9a9a" stroke-width="0.9"/>
<text x="53.4" y="711.9" font-size="8.8" text-anchor="end" fill="#2a2a2a" stroke="#2a2a2a" stroke-width="0.32">0.25</text>
<line x1="55.5" y1="682.0999999999999" x2="58.1" y2="682.0999999999999" stroke="#9a9a9a" stroke-width="0.9"/>
<text x="53.4" y="685.3" font-size="8.8" text-anchor="end" fill="#2a2a2a" stroke="#2a2a2a" stroke-width="0.32">0.50</text>
<line x1="55.5" y1="655.5" x2="58.1" y2="655.5" stroke="#9a9a9a" stroke-width="0.9"/>
<text x="53.4" y="658.7" font-size="8.8" text-anchor="end" fill="#2a2a2a" stroke="#2a2a2a" stroke-width="0.32">0.75</text>
<line x1="55.5" y1="628.9" x2="58.1" y2="628.9" stroke="#9a9a9a" stroke-width="0.9"/>
<text x="53.4" y="632.1" font-size="8.8" text-anchor="end" fill="#2a2a2a" stroke="#2a2a2a" stroke-width="0.32">1.00</text>
<line x1="58.1" y1="628.9" x2="58.1" y2="735.3" stroke="#9a9a9a" stroke-width="1.0"/>
<line x1="57.6" y1="735.3" x2="494.8" y2="735.3" stroke="#9a9a9a" stroke-width="1.0"/>
<line x1="80.0" y1="735.3" x2="80.0" y2="738.0" stroke="#9a9a9a" stroke-width="0.9"/>
<text x="80.0" y="748.1" font-size="8.8" text-anchor="middle" fill="#2a2a2a" stroke="#2a2a2a" stroke-width="0.32">0</text>
<line x1="183.575" y1="735.3" x2="183.575" y2="738.0" stroke="#9a9a9a" stroke-width="0.9"/>
<text x="183.575" y="748.1" font-size="8.8" text-anchor="middle" fill="#2a2a2a" stroke="#2a2a2a" stroke-width="0.32">2.5</text>
<line x1="287.15" y1="735.3" x2="287.15" y2="738.0" stroke="#9a9a9a" stroke-width="0.9"/>
<text x="287.15" y="748.1" font-size="8.8" text-anchor="middle" fill="#2a2a2a" stroke="#2a2a2a" stroke-width="0.32">5.0</text>
<line x1="390.725" y1="735.3" x2="390.725" y2="738.0" stroke="#9a9a9a" stroke-width="0.9"/>
<text x="390.725" y="748.1" font-size="8.8" text-anchor="middle" fill="#2a2a2a" stroke="#2a2a2a" stroke-width="0.32">7.5</text>
<line x1="494.3" y1="735.3" x2="494.3" y2="738.0" stroke="#9a9a9a" stroke-width="0.9"/>
<text x="494.3" y="748.1" font-size="8.8" text-anchor="middle" fill="#2a2a2a" stroke="#2a2a2a" stroke-width="0.32">10.0</text>
<text transform="translate(27.8,682.8) rotate(-90)" x="0" y="0" font-size="9.4" text-anchor="middle" textLength="57.4" lengthAdjust="spacingAndGlyphs" fill="#2a2a2a" stroke="#2a2a2a" stroke-width="0.32">OS probability</text>
<text x="262.5" y="763.2" font-size="9.5" textLength="49.8" lengthAdjust="spacingAndGlyphs" fill="#2a2a2a" stroke="#2a2a2a" stroke-width="0.32">Follow-up, y</text>
<text x="63.2" y="729.4" font-size="9.2" textLength="135.0" lengthAdjust="spacingAndGlyphs" fill="#2a2a2a" stroke="#2a2a2a" stroke-width="0.32">HR, 1.27; 95% CI, 0.82-1.97; <tspan font-style="italic">P</tspan> = .27</text>
<path d="M78.8,628.7 H88.0 V628.8 H90.4 V631.2 H91.8 V632.7 H93.3 V634.6 H96.2 V636.0 H100.0 V638.4 H101.9 V639.8 H103.8 V641.3 H106.7 V643.5 H109.1 V645.2 H110.3 V646.6 H111.5 V648.0 H114.4 V649.5 H118.3 V650.0 H125.0 V650.9 H132.7 V651.2 H138.5 V651.8 H145.4 V653.8 H149.6 V654.8 H153.8 V656.9 H166.5 V658.6 H179.2 V660.1 H183.5 V661.8 H230.0 V662.5 L330.0,662.5 L330.0,663.2 L400.0,663.2 L400.0,663.8 L494.4,663.8" fill="none" stroke="#4C7A8B" stroke-width="1.45" stroke-linejoin="round"/>
<path d="M93.3,631.1v7.0M106.7,640.0v7.0M108.2,641.1v7.0M114.4,646.0v7.0M149.6,651.3v7.0M166.5,655.1v7.0M169.7,655.5v7.0M244.3,659.0v7.0M246.3,659.0v7.0M248.3,659.0v7.0M264.1,659.0v7.0M268.4,659.0v7.0M285.3,659.0v7.0M301.2,659.0v7.0M308.6,659.0v7.0M337.7,659.7v7.0M338.8,659.7v7.0M353.6,659.7v7.0M368.4,659.7v7.0M370.5,659.7v7.0M378.9,659.7v7.0M383.2,659.7v7.0M385.3,659.7v7.0M388.5,659.7v7.0M390.6,659.7v7.0M392.7,659.7v7.0M395.9,659.7v7.0M398.0,659.7v7.0M402.2,660.3v7.0M404.5,660.3v7.0M406.4,660.3v7.0M417.0,660.3v7.0M426.5,660.3v7.0M428.7,660.3v7.0M432.0,660.3v7.0M440.5,660.3v7.0M443.7,660.3v7.0M447.9,660.3v7.0M452.1,660.3v7.0M456.3,660.3v7.0M460.6,660.3v7.0M464.8,660.3v7.0M469.0,660.3v7.0M472.2,660.3v7.0M475.4,660.3v7.0M479.6,660.3v7.0M486.0,660.3v7.0M490.2,660.3v7.0M492.3,660.3v7.0" stroke="#4A6E7E" stroke-width="1.15" fill="none"/>
<path d="M78.8,628.7 H86.1 V629.3 L91.3,629.3 H94.2 V630.3 H101.9 V631.7 H108.7 V633.1 H113.5 V634.6 H116.3 V637.0 H119.2 V638.4 H122.1 V639.8 H125.0 V641.3 H128.8 V643.3 H132.7 V645.3 H139.1 V647.1 H145.4 V648.9 H149.6 V650.5 H154.0 V651.6 H159.1 V652.0 H162.3 V653.8 H170.8 V654.4 H180.0 V655.2 H198.3 V655.5 H204.6 V656.9 H221.5 V657.8 H230.0 V658.2 L300.0,658.2 L300.0,658.6 L400.0,658.6 L400.0,659.2 L494.4,659.2" fill="none" stroke="#F28D20" stroke-width="1.45" stroke-linejoin="round"/>
<path d="M86.1,625.8v7.0M91.3,625.8v7.0M119.2,634.9v7.0M149.6,647.0v7.0M158.1,648.4v7.0M159.1,648.5v7.0M180.3,651.7v7.0M183.5,651.8v7.0M187.7,651.8v7.0M189.8,651.9v7.0M193.0,651.9v7.0M198.3,652.0v7.0M216.3,654.0v7.0M218.4,654.1v7.0M221.5,654.3v7.0M233.5,654.7v7.0M235.6,654.7v7.0M237.7,654.7v7.0M239.8,654.7v7.0M241.9,654.7v7.0M254.6,654.7v7.0M256.7,654.7v7.0M264.1,654.7v7.0M281.1,654.7v7.0M302.2,655.1v7.0M310.7,655.1v7.0M319.1,655.1v7.0M320.2,655.1v7.0M321.3,655.1v7.0M337.7,655.1v7.0M339.8,655.1v7.0M341.9,655.1v7.0M345.1,655.1v7.0M348.3,655.1v7.0M351.4,655.1v7.0M361.0,655.1v7.0M364.1,655.1v7.0M372.6,655.1v7.0M377.9,655.1v7.0M381.1,655.1v7.0M384.2,655.1v7.0M387.4,655.1v7.0M389.5,655.1v7.0M391.6,655.1v7.0M393.8,655.1v7.0M396.0,655.1v7.0M398.2,655.1v7.0M400.1,655.7v7.0M402.2,655.7v7.0M404.5,655.7v7.0M407.7,655.7v7.0M410.7,655.7v7.0M418.3,655.7v7.0M423.4,655.7v7.0M425.5,655.7v7.0M427.6,655.7v7.0M429.7,655.7v7.0M431.8,655.7v7.0M434.1,655.7v7.0M438.4,655.7v7.0M441.5,655.7v7.0M445.8,655.7v7.0M447.9,655.7v7.0M450.0,655.7v7.0M452.1,655.7v7.0M454.2,655.7v7.0M456.3,655.7v7.0M458.5,655.7v7.0M462.7,655.7v7.0M466.9,655.7v7.0M471.2,655.7v7.0M474.3,655.7v7.0M476.4,655.7v7.0M478.6,655.7v7.0M480.7,655.7v7.0M483.9,655.7v7.0M487.0,655.7v7.0M489.1,655.7v7.0M491.3,655.7v7.0M493.4,655.7v7.0" stroke="#F28D20" stroke-width="1.4" fill="none"/>
<text x="428.8" y="650.3" font-size="9.3" textLength="65.2" lengthAdjust="spacingAndGlyphs" fill="#2a2a2a" stroke="#2a2a2a" stroke-width="0.32">ACS10 high score</text>
<text x="428.8" y="678.2" font-size="9.3" textLength="62.5" lengthAdjust="spacingAndGlyphs" fill="#2a2a2a" stroke="#2a2a2a" stroke-width="0.32">ACS10 low score</text>
<text x="19.4" y="756.3" font-size="9.2" textLength="37" lengthAdjust="spacingAndGlyphs" fill="#2a2a2a" stroke="#2a2a2a" stroke-width="0.32">No. at risk</text>
<text x="19.4" y="767.2" font-size="9.2" textLength="46" lengthAdjust="spacingAndGlyphs" fill="#2a2a2a" stroke="#2a2a2a" stroke-width="0.32">ACS10 score</text>
<text x="25.5" y="777.7" font-size="9.2" textLength="14.7" lengthAdjust="spacingAndGlyphs" fill="#2a2a2a" stroke="#2a2a2a" stroke-width="0.32">Low</text>
<text x="25.5" y="788.4" font-size="9.2" textLength="16.7" lengthAdjust="spacingAndGlyphs" fill="#2a2a2a" stroke="#2a2a2a" stroke-width="0.32">High</text>
<text x="85.2" y="777.7" font-size="9.4" text-anchor="end" fill="#2a2a2a" stroke="#2a2a2a" stroke-width="0.32">107</text>
<text x="85.2" y="788.4" font-size="9.4" text-anchor="end" fill="#2a2a2a" stroke="#2a2a2a" stroke-width="0.32">178</text>
<text x="189.0" y="777.7" font-size="9.4" text-anchor="end" fill="#2a2a2a" stroke="#2a2a2a" stroke-width="0.32">69</text>
<text x="189.0" y="788.4" font-size="9.4" text-anchor="end" fill="#2a2a2a" stroke="#2a2a2a" stroke-width="0.32">128</text>
<text x="291.5" y="777.7" font-size="9.4" text-anchor="end" fill="#2a2a2a" stroke="#2a2a2a" stroke-width="0.32">61</text>
<text x="291.5" y="788.4" font-size="9.4" text-anchor="end" fill="#2a2a2a" stroke="#2a2a2a" stroke-width="0.32">107</text>
<text x="393.3" y="777.7" font-size="9.4" text-anchor="end" fill="#2a2a2a" stroke="#2a2a2a" stroke-width="0.32">44</text>
<text x="393.3" y="788.4" font-size="9.4" text-anchor="end" fill="#2a2a2a" stroke="#2a2a2a" stroke-width="0.32">78</text>
<text x="496.7" y="777.7" font-size="9.4" text-anchor="end" fill="#2a2a2a" stroke="#2a2a2a" stroke-width="0.32">7</text>
<text x="496.7" y="788.4" font-size="9.4" text-anchor="end" fill="#2a2a2a" stroke="#2a2a2a" stroke-width="0.32">24</text>
</svg>
</body></html>
